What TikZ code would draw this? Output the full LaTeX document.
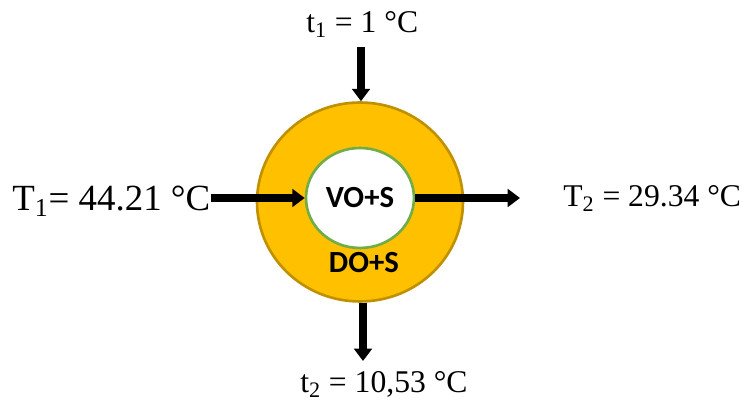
\documentclass[tikz,border=0pt]{standalone}
\usepackage{fontspec}
\setmainfont{Liberation Serif}
\newfontfamily\labfont{Carlito}
\usepackage{xcolor}
\usetikzlibrary{positioning,arrows.meta,shapes.geometric}

\definecolor{ringfill}{HTML}{FFC000}
\definecolor{ringline}{HTML}{BF9000}
\definecolor{coreline}{HTML}{70AD47}

\begin{document}
\begin{tikzpicture}[x=0.02cm,y=0.02cm,>={Triangle[length=7pt,width=10pt]},
                    flow/.style={->,line width=4pt},
                    temp/.style={inner sep=0pt,font=\fontsize{18}{21}\selectfont},
                    phase/.style={inner sep=0pt,font=\labfont\bfseries\fontsize{17.5}{20}\selectfont}]
    \useasboundingbox (0,0) rectangle (745,401);

    \node[ellipse,draw=ringline,fill=ringfill,line width=1.5pt,
          minimum width=4.12cm,minimum height=3.98cm] (ring) at (360,199) {};
    \node[ellipse,draw=coreline,fill=white,line width=1.5pt,
          minimum width=2.16cm,minimum height=2.0cm] (core) at (360,203) {};

    \node[phase] (vo) at (core) {VO+S};
    \node[phase] (do) at (364,138) {DO+S};

    \node[temp,anchor=base west,font=\fontsize{21}{25}\selectfont] (Tin) at (12,190)
         {T\textsubscript{1}= 44.21 °C};
    \node[temp,anchor=base west] (Tout) at (563,194) {T\textsubscript{2} = 29.34 °C};
    \node[temp,anchor=base west] (tin) at (306,368) {t\textsubscript{1} = 1 °C};
    \node[temp,anchor=base west] (tout) at (300,8) {t\textsubscript{2} = 10,53 °C};

    \coordinate (top) at (361,354);
    \coordinate (right) at (520,205);
    \coordinate (bottom) at (363,40);

    \draw[flow] (top) -- (ring.north -| top);
    \draw[flow] (Tin.east |- core.west) -- (core.west);
    \draw[flow] (core.east) -- (core.east -| right);
    \draw[flow] (ring.south -| bottom) -- (bottom);
\end{tikzpicture}
\end{document}
